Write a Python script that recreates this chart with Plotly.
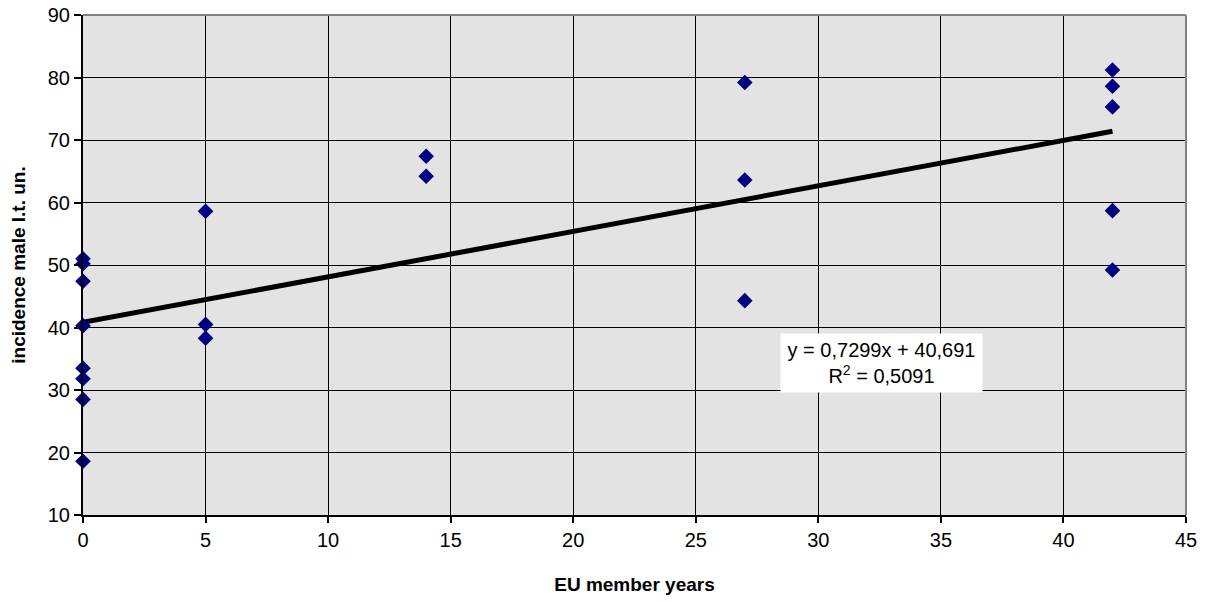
import numpy as np
import plotly.graph_objects as go

# EU membership years vs incidence
member_years = [0, 0, 0, 0, 0, 0, 0, 0,
                5, 5, 5,
                14, 14,
                27, 27, 27,
                42, 42, 42, 42, 42]
incidence = [51.0, 50.2, 47.4, 40.3, 33.5, 31.8, 28.5, 18.6,
             58.6, 40.5, 38.3,
             67.4, 64.2,
             79.2, 63.6, 44.3,
             81.2, 78.6, 75.3, 58.7, 49.2]

fit_label = "y = 0,7299x + 40,691<br>R<sup>2</sup> = 0,5091"

# linear trendline fitted on the points
slope, intercept = np.polyfit(member_years, incidence, 1)
trend_x = np.array([min(member_years), max(member_years)])
trend_y = slope * trend_x + intercept

fig = go.Figure()

fig.add_trace(go.Scatter(
    x=trend_x, y=trend_y, mode="lines",
    line=dict(color="black", width=5),
    showlegend=False,
))

fig.add_trace(go.Scatter(
    x=member_years, y=incidence, mode="markers",
    marker=dict(symbol="diamond", size=12, color="#000080"),
    cliponaxis=False, showlegend=False,
))

fig.add_annotation(
    x=32.56, y=34.3, xref="x", yref="y",
    text=fit_label, showarrow=False,
    font=dict(family="Liberation Sans, Arial", size=20, color="black"),
    bgcolor="white", borderpad=0, width=201, height=58, align="center",
)

axis_font = dict(family="Liberation Sans, Arial", size=20, color="black")
title_font = dict(family="Liberation Sans, Arial", size=19, color="black")

fig.update_xaxes(
    range=[0, 45], dtick=5, tick0=0,
    showgrid=True, gridcolor="black", gridwidth=1,
    showline=True, linecolor="black", linewidth=2,
    ticks="outside", ticklen=6, tickcolor="black", tickwidth=2,
    zeroline=False, tickfont=axis_font, automargin=False,
    title=dict(text="<b>EU member years</b>", font=title_font, standoff=28),
)
fig.update_yaxes(
    range=[10, 90], dtick=10, tick0=10,
    showgrid=True, gridcolor="black", gridwidth=1,
    showline=True, linecolor="black", linewidth=2,
    ticks="outside", ticklen=7, tickcolor="black", tickwidth=2,
    zeroline=False, tickfont=axis_font, automargin=False,
    ticklabeloverflow="allow",
    title=dict(text="<b>incidence male l.t. un.</b>", font=title_font, standoff=17),
)

fig.update_layout(
    width=1207, height=602,
    margin=dict(l=83, r=21, t=15, b=87),
    plot_bgcolor="#e3e3e3",
    paper_bgcolor="white",
)

# grey frame on top / right of plot area
fig.add_shape(type="line", xref="paper", yref="paper", x0=0, y0=1, x1=1, y1=1,
              line=dict(color="#808080", width=2), layer="above")
fig.add_shape(type="line", xref="paper", yref="paper", x0=1, y0=0, x1=1, y1=1,
              line=dict(color="#808080", width=2), layer="above")

# drop the default page margin so the figure sits at the window corner
fig.write_html("out.html", config={"displayModeBar": False},
               post_script="document.body.style.margin='0';")
